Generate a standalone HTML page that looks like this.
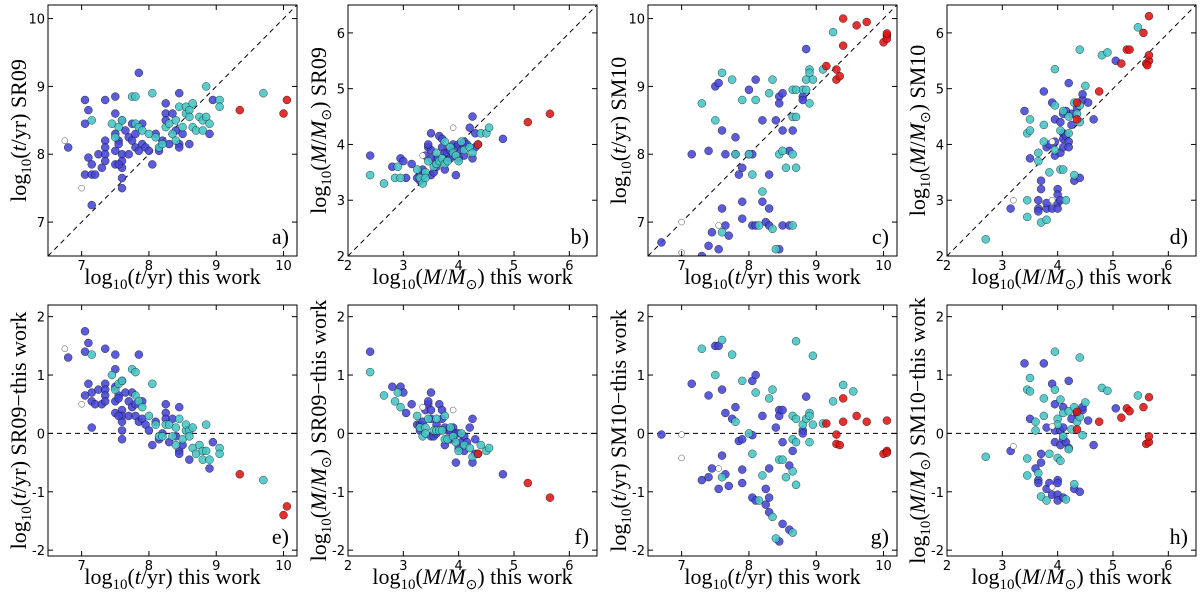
<!DOCTYPE html>
<html><head><meta charset="utf-8"><style>
html,body{margin:0;padding:0;background:#fff;}
svg{display:block;}
</style></head><body>
<svg id="fig" xmlns="http://www.w3.org/2000/svg" width="1200" height="602" viewBox="0 0 1200 602"></svg>
<script>
// ---- data ----
const aBlue=[[6.8,8.1],[7.05,8.8],[7.1,8.65],[7.05,8.45],[7.1,7.95],[7.15,7.85],[7.05,7.7],[7.15,7.7],[7.2,7.7],[7.15,7.25],[7.25,8.0],[7.3,7.8],[7.35,8.8],[7.35,8.2],[7.35,8.1],[7.35,8.0],[7.35,7.9],[7.5,8.85],[7.5,8.6],[7.5,8.3],[7.5,8.05],[7.5,7.85],[7.6,8.5],[7.55,8.2],[7.55,8.15],[7.6,8.0],[7.6,7.9],[7.6,7.8],[7.6,7.65],[7.6,7.5],[7.55,7.85],[7.65,8.35],[7.7,8.0],[7.7,8.25],[7.75,8.2],[7.8,8.3],[7.8,8.1],[7.85,9.2],[7.85,8.05],[7.9,8.15],[7.95,8.1],[8.0,8.05],[8.05,7.85],[8.15,8.05],[8.2,8.2],[8.25,8.6],[8.25,8.75],[8.25,8.5],[8.3,8.15],[8.35,8.6],[8.45,8.9],[8.45,8.15],[8.45,8.1],[8.5,8.3],[8.6,8.15],[8.9,8.3],[8.95,8.8],[7.75,8.45],[7.9,8.45],[8.1,8.3],[8.4,8.35]];
const aCyan=[[7.15,8.5],[7.45,8.45],[7.5,8.25],[7.55,8.4],[7.6,8.5],[7.75,8.85],[7.8,8.85],[7.8,8.45],[7.85,8.4],[7.9,8.35],[8.0,8.3],[8.05,8.9],[8.1,8.25],[8.15,8.1],[8.2,8.15],[8.25,8.4],[8.3,8.45],[8.35,8.3],[8.4,8.5],[8.45,8.7],[8.5,8.4],[8.55,8.6],[8.55,8.7],[8.6,8.65],[8.65,8.75],[8.65,8.4],[8.7,8.35],[8.75,8.55],[8.8,8.5],[8.8,8.35],[8.85,8.55],[8.85,9.0],[8.9,8.45],[9.05,8.8],[9.05,8.7],[9.7,8.9],[8.6,8.55],[8.4,8.2]];
const aRed=[[9.35,8.65],[10.0,8.6],[10.05,8.8]];
const aOpen=[[6.75,8.2],[7.0,7.5]];

const bBlue=[[2.4,3.8],[2.8,3.6],[2.95,3.75],[3.0,3.7],[3.05,3.4],[3.15,3.65],[3.25,3.4],[3.3,3.45],[3.35,3.55],[3.4,3.8],[3.45,3.95],[3.5,4.2],[3.5,3.9],[3.5,3.45],[3.55,3.5],[3.6,3.75],[3.65,4.15],[3.7,4.1],[3.7,3.95],[3.75,3.85],[3.8,3.85],[3.85,3.9],[3.9,4.0],[3.9,3.8],[3.95,3.95],[3.95,3.45],[4.0,4.0],[4.05,3.9],[4.1,4.05],[4.1,3.8],[4.2,4.3],[4.25,4.5],[4.25,3.75],[4.3,3.95],[4.3,4.2],[4.15,4.0],[4.8,4.1],[3.45,4.0],[3.6,3.6],[3.85,3.75],[4.0,3.75],[3.75,3.55],[3.3,3.35],[3.5,3.75]];
const bCyan=[[2.4,3.45],[2.65,3.3],[2.85,3.4],[2.9,3.6],[2.95,3.4],[3.25,3.55],[3.3,3.4],[3.35,3.3],[3.4,3.5],[3.45,3.7],[3.55,3.6],[3.6,3.65],[3.65,3.7],[3.7,3.75],[3.75,3.65],[3.8,3.7],[3.85,3.95],[3.9,3.85],[3.95,3.8],[4.0,3.7],[4.05,4.05],[4.1,3.9],[4.2,3.95],[4.25,3.85],[4.35,4.0],[4.4,4.2],[4.5,4.2],[4.55,4.3],[3.6,3.85],[3.75,4.05],[3.4,3.4]];
const bRed=[[4.35,4.0],[5.25,4.4],[5.65,4.55]];
const bOpen=[[3.9,4.3],[3.35,3.8]];

const cBlue=[[6.7,6.7],[7.15,8.0],[7.3,6.5],[7.4,6.65],[7.4,8.05],[7.45,6.85],[7.5,9.0],[7.55,9.05],[7.55,6.6],[7.6,8.35],[7.6,7.2],[7.65,8.0],[7.65,6.95],[7.7,6.8],[7.8,8.0],[7.8,8.25],[7.85,7.7],[7.9,7.8],[7.9,7.3],[7.9,7.05],[8.0,8.0],[8.0,8.95],[8.05,8.0],[8.05,6.95],[8.1,9.1],[8.1,6.95],[8.2,8.5],[8.2,7.3],[8.25,7.0],[8.3,7.2],[8.3,7.7],[8.3,6.95],[8.4,8.5],[8.45,8.85],[8.45,8.75],[8.45,6.6],[8.5,8.9],[8.5,8.35],[8.5,6.95],[8.6,8.05],[8.6,6.95],[8.65,8.35],[8.8,8.85],[8.8,8.8],[8.85,9.55]];
const cCyan=[[7.3,8.75],[7.5,8.5],[7.6,9.2],[7.6,6.85],[7.75,9.1],[7.8,8.0],[7.9,8.8],[8.0,8.0],[8.05,7.7],[8.1,8.8],[8.15,6.95],[8.2,7.45],[8.3,8.9],[8.35,9.1],[8.35,6.9],[8.4,6.6],[8.45,8.0],[8.5,8.05],[8.55,7.8],[8.65,8.95],[8.65,8.55],[8.65,8.0],[8.65,6.95],[8.7,8.55],[8.7,7.8],[8.8,8.95],[8.85,8.95],[8.85,9.1],[8.9,9.25],[8.9,9.2],[8.9,8.75],[8.95,9.1],[9.1,9.25],[9.25,9.8],[8.7,8.95]];
const cRed=[[9.15,9.3],[9.3,9.25],[9.3,9.1],[9.35,9.15],[9.4,9.6],[9.4,10.0],[9.6,9.9],[9.75,9.95],[10.0,9.65],[10.05,9.75],[10.05,9.7],[10.05,9.78]];
const cOpen=[[7.0,7.0],[7.0,6.55],[7.55,6.95]];

const dBlue=[[3.15,2.85],[3.4,4.6],[3.5,3.75],[3.65,3.0],[3.65,2.85],[3.65,2.8],[3.7,3.35],[3.7,3.2],[3.75,4.95],[3.8,3.95],[3.8,2.85],[3.8,2.95],[3.85,4.0],[3.9,4.75],[3.9,2.85],[3.95,4.45],[3.95,3.8],[4.0,3.2],[4.0,3.1],[4.0,2.95],[4.0,2.85],[4.05,4.4],[4.05,3.85],[4.05,3.0],[4.1,4.55],[4.1,4.2],[4.1,4.1],[4.1,3.95],[4.15,4.15],[4.2,4.05],[4.2,3.95],[4.2,5.1],[4.25,4.55],[4.25,4.35],[4.3,3.35],[4.4,3.4],[4.45,4.8],[4.45,4.9],[4.55,4.75],[4.65,4.45],[5.05,5.5],[4.15,4.6],[4.35,4.65],[3.95,4.05]];
const dCyan=[[2.7,2.3],[3.45,3.0],[3.45,2.7],[3.45,4.2],[3.5,4.25],[3.5,4.45],[3.65,3.85],[3.65,3.7],[3.7,2.6],[3.75,4.35],[3.75,4.05],[3.8,2.65],[3.85,3.5],[3.95,5.35],[3.95,4.7],[4.05,4.25],[4.05,3.55],[4.1,3.55],[4.1,4.6],[4.15,3.0],[4.2,4.5],[4.3,4.75],[4.3,3.45],[4.35,4.55],[4.4,5.7],[4.4,4.4],[4.4,4.7],[4.5,5.05],[4.8,5.6],[4.9,5.65],[5.45,6.1],[4.2,4.2],[3.95,3.9]];
const dRed=[[4.35,4.45],[4.35,4.75],[4.75,4.95],[5.15,5.45],[5.25,5.7],[5.3,5.7],[5.55,6.0],[5.6,5.45],[5.65,5.5],[5.65,5.6],[5.65,6.3],[5.62,5.42]];
const dOpen=[[3.2,3.0],[3.9,4.05],[3.9,3.0]];

const eBlue=[[6.8,1.3],[7.05,1.75],[7.1,1.55],[7.05,1.4],[7.1,0.85],[7.15,0.7],[7.05,0.65],[7.15,0.55],[7.2,0.5],[7.15,0.1],[7.25,0.75],[7.3,0.5],[7.35,1.45],[7.35,0.85],[7.35,0.75],[7.35,0.65],[7.35,0.55],[7.5,1.35],[7.5,1.1],[7.5,0.8],[7.5,0.55],[7.5,0.35],[7.6,0.9],[7.55,0.65],[7.55,0.6],[7.6,0.4],[7.6,0.3],[7.6,0.2],[7.6,0.05],[7.6,-0.1],[7.55,0.3],[7.65,0.7],[7.7,0.3],[7.7,0.55],[7.75,0.45],[7.8,0.5],[7.8,0.3],[7.85,1.35],[7.85,0.2],[7.9,0.25],[7.95,0.15],[8.0,0.05],[8.05,-0.2],[8.15,-0.1],[8.2,0.0],[8.25,0.35],[8.25,0.5],[8.25,0.25],[8.3,-0.15],[8.35,0.25],[8.45,0.45],[8.45,-0.3],[8.45,-0.35],[8.5,-0.2],[8.6,-0.45],[8.9,-0.6],[8.95,-0.15],[7.75,0.7],[7.9,0.55],[8.1,0.2],[8.4,-0.05]];
const eCyan=[[7.15,1.35],[7.45,1.0],[7.5,0.75],[7.55,0.85],[7.6,0.9],[7.75,1.1],[7.8,1.05],[7.8,0.65],[7.85,0.55],[7.9,0.45],[8.0,0.3],[8.05,0.85],[8.1,0.15],[8.15,-0.05],[8.2,-0.05],[8.25,0.15],[8.3,0.15],[8.35,-0.05],[8.4,0.1],[8.45,0.25],[8.5,-0.1],[8.55,0.05],[8.55,0.15],[8.6,0.05],[8.65,0.1],[8.65,-0.25],[8.7,-0.35],[8.75,-0.2],[8.8,-0.3],[8.8,-0.45],[8.85,-0.3],[8.85,0.15],[8.9,-0.45],[9.05,-0.25],[9.05,-0.35],[9.7,-0.8],[8.6,-0.05],[8.4,-0.2]];
const eRed=[[9.35,-0.7],[10.0,-1.4],[10.05,-1.25]];
const eOpen=[[6.75,1.45],[7.0,0.5]];

const fBlue=[[2.4,1.4],[2.8,0.8],[2.95,0.8],[3.0,0.7],[3.05,0.35],[3.15,0.5],[3.25,0.15],[3.3,0.15],[3.35,0.2],[3.4,0.4],[3.45,0.5],[3.5,0.7],[3.5,0.4],[3.5,-0.05],[3.55,-0.05],[3.6,0.15],[3.65,0.5],[3.7,0.4],[3.7,0.25],[3.75,0.1],[3.8,0.05],[3.85,0.05],[3.9,0.1],[3.9,-0.1],[3.95,0.0],[3.95,-0.5],[4.0,0.0],[4.05,-0.15],[4.1,-0.05],[4.1,-0.3],[4.2,0.1],[4.25,0.25],[4.25,-0.5],[4.3,-0.35],[4.3,-0.1],[4.15,-0.15],[4.8,-0.7],[3.45,0.55],[3.6,0.0],[3.85,-0.1],[4.0,-0.25],[3.75,-0.2],[3.3,0.05],[3.5,0.25]];
const fCyan=[[2.4,1.05],[2.65,0.65],[2.85,0.55],[2.9,0.7],[2.95,0.45],[3.25,0.3],[3.3,0.1],[3.35,-0.05],[3.4,0.1],[3.45,0.25],[3.55,0.05],[3.6,0.05],[3.65,0.05],[3.7,0.05],[3.75,-0.1],[3.8,-0.1],[3.85,0.1],[3.9,-0.05],[3.95,-0.15],[4.0,-0.3],[4.05,0.0],[4.1,-0.2],[4.2,-0.25],[4.25,-0.4],[4.35,-0.35],[4.4,-0.2],[4.5,-0.3],[4.55,-0.25],[3.6,0.25],[3.75,0.3],[3.4,0.0]];
const fRed=[[4.35,-0.35],[5.25,-0.85],[5.65,-1.1]];
const fOpen=[[3.9,0.4],[3.35,0.45]];

const gBlue=[[6.7,-0.02],[7.15,0.85],[7.3,-0.8],[7.4,-0.75],[7.4,0.65],[7.45,-0.6],[7.5,1.5],[7.55,1.5],[7.55,-0.95],[7.6,0.75],[7.6,-0.38],[7.65,-0.7],[7.65,0.35],[7.7,-0.9],[7.75,0.25],[7.8,0.45],[7.85,-0.13],[7.9,-0.1],[7.9,-0.62],[7.9,-0.85],[8.05,0.9],[8.05,-0.03],[8.05,-1.1],[8.1,1.0],[8.1,-1.15],[8.2,0.3],[8.25,-0.95],[8.25,-1.22],[8.3,-0.6],[8.3,-1.1],[8.3,-1.35],[8.4,0.1],[8.45,0.4],[8.45,0.3],[8.45,-1.85],[8.5,0.4],[8.5,-0.15],[8.5,-1.55],[8.6,-0.55],[8.6,-1.65],[8.65,-0.3],[8.8,0.05],[8.8,0.0],[8.85,0.63]];
const gCyan=[[7.3,1.45],[7.5,1.0],[7.6,1.6],[7.6,-0.75],[7.75,1.35],[7.8,0.2],[7.9,0.9],[8.0,0.0],[8.05,-0.35],[8.1,0.7],[8.15,-1.15],[8.2,-0.72],[8.3,0.6],[8.35,0.75],[8.35,-1.43],[8.4,-1.8],[8.45,-0.45],[8.5,-0.45],[8.55,-0.75],[8.65,0.3],[8.65,-0.1],[8.65,-0.65],[8.65,-1.7],[8.7,1.58],[8.7,-0.15],[8.7,0.25],[8.7,-0.88],[8.8,0.15],[8.85,0.25],[8.9,0.35],[8.9,0.3],[8.9,-0.15],[8.95,1.33],[8.95,0.15],[9.1,0.17],[9.25,0.55],[9.4,0.83],[9.55,0.72]];
const gRed=[[9.15,0.17],[9.3,-0.02],[9.3,-0.18],[9.35,-0.2],[9.4,0.2],[9.4,0.6],[9.6,0.3],[9.75,0.2],[10.0,-0.35],[10.05,-0.3],[10.05,-0.33],[10.05,0.22]];
const gOpen=[[7.0,-0.02],[7.0,-0.42],[7.55,-0.6]];

const hBlue=[[3.15,-0.3],[3.4,1.2],[3.5,0.25],[3.6,-0.6],[3.65,-0.8],[3.65,-0.85],[3.7,-0.35],[3.7,-0.5],[3.75,1.2],[3.8,0.1],[3.8,-0.95],[3.85,-0.85],[3.9,0.85],[3.9,-1.05],[3.95,0.5],[3.95,-0.15],[3.95,0.05],[4.0,-0.8],[4.0,-0.85],[4.0,-1.05],[4.0,-1.15],[4.05,0.05],[4.05,-0.2],[4.1,0.45],[4.1,0.1],[4.1,-0.1],[4.1,-1.1],[4.15,-0.15],[4.2,0.9],[4.25,0.25],[4.3,-0.95],[4.35,0.35],[4.4,-1.0],[4.45,0.4],[4.45,0.45],[4.55,0.22],[4.65,-0.2],[5.05,0.43],[4.2,-0.25]];
const hCyan=[[2.7,-0.4],[3.45,-0.43],[3.45,-0.72],[3.45,0.75],[3.5,0.95],[3.5,0.72],[3.6,0.2],[3.6,0.05],[3.65,-0.68],[3.7,-1.08],[3.75,0.6],[3.75,0.3],[3.8,-1.15],[3.85,-0.35],[3.95,1.4],[3.95,0.75],[4.0,0.25],[4.0,-0.42],[4.05,-0.47],[4.05,0.58],[4.1,0.35],[4.1,-0.05],[4.15,-1.13],[4.2,-0.27],[4.2,0.38],[4.3,0.45],[4.3,-0.87],[4.35,0.2],[4.4,1.3],[4.4,0.28],[4.45,-0.03],[4.5,0.53],[4.8,0.78],[4.9,0.73],[5.45,0.65],[4.0,0.15],[4.25,0.07]];
const hRed=[[4.35,0.07],[4.35,0.37],[4.75,0.2],[5.15,0.27],[5.25,0.43],[5.3,0.38],[5.55,0.45],[5.6,-0.18],[5.65,-0.15],[5.65,-0.05],[5.65,0.62]];
const hOpen=[[3.2,-0.22],[3.9,0.12],[3.9,-0.92]];

const tTicks=[7,8,9,10];
const mTicks=[2,3,4,5,6];
const dTicks=[-2,-1,0,1,2];
const panelLetters=['a)','b)','c)','d)','e)','f)','g)','h)'];

// ---- layout ----
const NS='http://www.w3.org/2000/svg';
const svg=document.getElementById('fig');
function mk(tag,attrs,parent){const e=document.createElementNS(NS,tag);for(const k in attrs)e.setAttribute(k,attrs[k]);(parent||svg).appendChild(e);return e;}
const T='log<tspan font-size="15" dy="5">10</tspan><tspan dy="-5">(</tspan><tspan font-style="italic">t</tspan>/yr)';
const M='log<tspan font-size="15" dy="5">10</tspan><tspan dy="-5">(</tspan><tspan font-style="italic">M</tspan>/<tspan font-style="italic">M</tspan><tspan font-size="14" dy="5">⊙</tspan><tspan dy="-5">)</tspan>';
const lefts=[48,348,648,947], W=249;
const tops=[5,305], H=251;
const panels=[
 {kind:'t',row:0,col:0,yl:T+' SR09',data:[aBlue,aCyan,aRed,aOpen]},
 {kind:'m',row:0,col:1,yl:M+' SR09',data:[bBlue,bCyan,bRed,bOpen]},
 {kind:'t',row:0,col:2,yl:T+' SM10',data:[cBlue,cCyan,cRed,cOpen]},
 {kind:'m',row:0,col:3,yl:M+' SM10',data:[dBlue,dCyan,dRed,dOpen]},
 {kind:'t',row:1,col:0,yl:T+' SR09−this work',data:[eBlue,eCyan,eRed,eOpen]},
 {kind:'m',row:1,col:1,yl:M+' SR09−this work',data:[fBlue,fCyan,fRed,fOpen]},
 {kind:'t',row:1,col:2,yl:T+' SM10−this work',data:[gBlue,gCyan,gRed,gOpen]},
 {kind:'m',row:1,col:3,yl:M+' SM10−this work',data:[hBlue,hCyan,hRed,hOpen]}
];
const fills=['#4646d6','#44c4c4','#dd1515','#ffffff'];
const names=['blue-point','cyan-point','red-point','open-point'];

panels.forEach((p,i)=>{
  const L=lefts[p.col], Tp=tops[p.row];
  const xlim=p.kind==='t'?[6.5,10.2]:[2,6.5];
  const ylim=p.row===1?[-2.1,2.2]:xlim;
  const sx=v=>L+(v-xlim[0])/(xlim[1]-xlim[0])*W;
  const sy=v=>Tp+H-(v-ylim[0])/(ylim[1]-ylim[0])*H;
  const g=mk('g',{});
  
  
  const clipId='clip'+i;
  const cp=mk('clipPath',{id:clipId},g); mk('rect',{x:L,y:Tp,width:W,height:H},cp);
  let ln;
  if(p.row===0) ln=mk('line',{x1:sx(xlim[0]),y1:sy(xlim[0]),x2:sx(xlim[1]),y2:sy(xlim[1]),stroke:'#000','stroke-width':1,'stroke-dasharray':'5,4','clip-path':'url(#'+clipId+')'},g);
  else ln=mk('line',{x1:L,y1:sy(0),x2:L+W,y2:sy(0),stroke:'#000','stroke-width':1,'stroke-dasharray':'5,4'},g);
  
  
  const pg=mk('g',{'clip-path':'url(#'+clipId+')'},g);
  p.data.forEach((arr,k)=>{
    arr.forEach(pt=>{
      const c=mk('circle',{cx:sx(pt[0]),cy:sy(pt[1]),r:k===3?3:4,fill:fills[k],'fill-opacity':k===3?1:0.88,stroke:'#000','stroke-width':0.5,'stroke-opacity':0.7},pg);
      
      
    });
  });
  const fr=mk('rect',{x:L,y:Tp,width:W,height:H,fill:'none',stroke:'#000','stroke-width':1},g);
  
  
  const xt=p.kind==='t'?tTicks:mTicks;
  const yt=p.row===1?dTicks:xt;
  xt.forEach(v=>{
    const x=sx(v);
    mk('line',{x1:x,y1:Tp+H,x2:x,y2:Tp+H-5,stroke:'#000'},g);
    mk('line',{x1:x,y1:Tp,x2:x,y2:Tp+5,stroke:'#000'},g);
    const t=mk('text',{x:x,y:Tp+H+14,'text-anchor':'middle','font-family':'DejaVu Sans, sans-serif','font-size':13},g);
    t.textContent=v;
    
    
  });
  yt.forEach(v=>{
    const y=sy(v);
    mk('line',{x1:L,y1:y,x2:L+5,y2:y,stroke:'#000'},g);
    mk('line',{x1:L+W,y1:y,x2:L+W-5,y2:y,stroke:'#000'},g);
    const t=mk('text',{x:L-3,y:y+5,'text-anchor':'end','font-family':'DejaVu Sans, sans-serif','font-size':13},g);
    t.textContent=v;
    
    
  });
  const xl=mk('text',{x:L+W/2,y:Tp+H+28,'text-anchor':'middle','font-family':'Liberation Serif, serif','font-size':22},g);
  xl.innerHTML=(p.kind==='t'?T:M)+' this work';
  
  
  const cx=L-22, cy=Tp+H/2;
  const yl=mk('text',{x:cx,y:cy,'text-anchor':'middle','font-family':'Liberation Serif, serif','font-size':22,transform:'rotate(-90 '+cx+' '+cy+')'},g);
  yl.innerHTML=p.yl;
  
  
  const pl=mk('text',{x:L+W-8,y:Tp+H-12,'text-anchor':'end','font-family':'Liberation Serif, serif','font-size':22},g);
  pl.textContent=panelLetters[i];
  
  
});
</script>
</body></html>
